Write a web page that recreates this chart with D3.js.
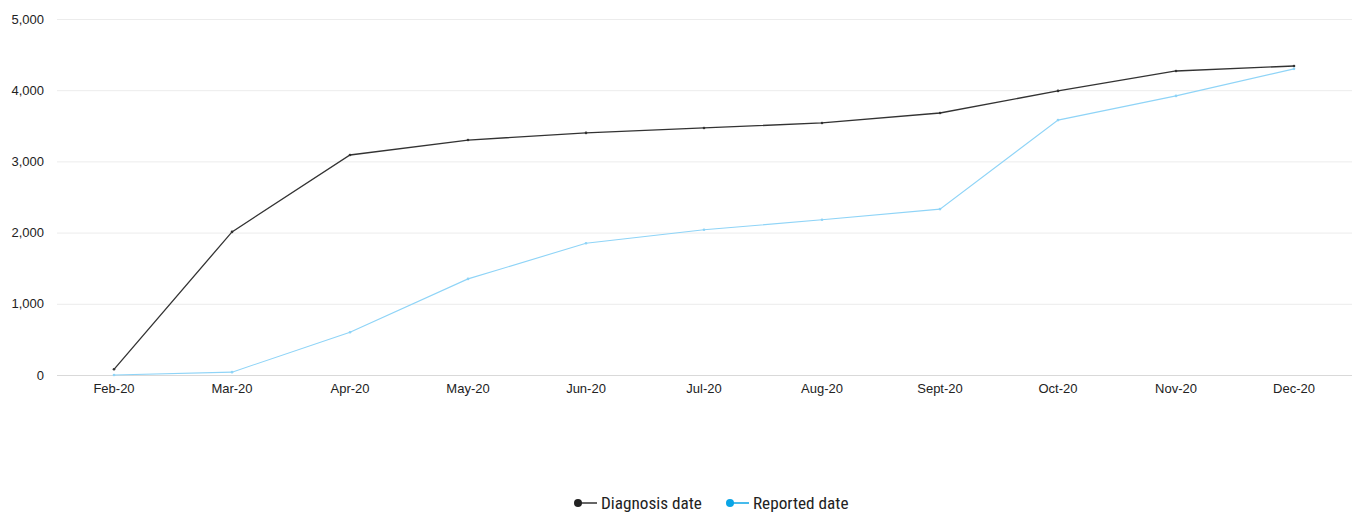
<!DOCTYPE html>
<html>
<head>
  <style>
    body { margin: 0; background: #fff; font-family: "Liberation Sans", Arial, sans-serif; }
    .axis text { font-size: 13px; fill: #222; }
    .legend text { font-family: "Liberation Sans Narrow", "Roboto Condensed", "Liberation Sans", sans-serif; font-size: 17.2px; fill: #222; }
  </style>
</head>
<body>
  <svg id="chart" width="1354" height="513"></svg>
  <script src="https://d3js.org/d3.v7.min.js"></script>
  <script>
    // Data
    const months = ["Feb-20", "Mar-20", "Apr-20", "May-20", "Jun-20", "Jul-20", "Aug-20", "Sept-20", "Oct-20", "Nov-20", "Dec-20"];
    const diagnosis = [80, 2010, 3090, 3300, 3400, 3470, 3540, 3680, 3990, 4270, 4340];
    const reported = [0, 40, 600, 1350, 1850, 2040, 2180, 2330, 3580, 3920, 4300];
    const yTicks = [0, 1000, 2000, 3000, 4000, 5000];

    const series = [
      { name: "Diagnosis date", values: diagnosis, color: "#333333", dot: "#222222", width: 1.3 },
      { name: "Reported date", values: reported, color: "#8fd4f7", dot: "#0aa5e6", width: 1.1 }
    ];

    const svg = d3.select("#chart");

    const x = d3.scaleBand()
      .domain(months)
      .range([55, 1353]);

    const y = d3.scaleLinear()
      .domain([0, 5000])
      .range([375, 19]);

    // Gridlines
    svg.append("g")
      .selectAll("line")
      .data(yTicks)
      .enter().append("line")
      .attr("x1", 57)
      .attr("x2", 1352)
      .attr("y1", d => y(d) + 0.5)
      .attr("y2", d => y(d) + 0.5)
      .attr("stroke", d => d === 0 ? "#d9d9d9" : "#ececec")
      .attr("stroke-width", 1);

    // Y axis labels
    const yAxis = svg.append("g")
      .attr("class", "axis")
      .attr("transform", "translate(44,0)")
      .call(d3.axisLeft(y).tickValues(yTicks).tickFormat(d3.format(",")).tickSize(0).tickPadding(0));
    yAxis.select(".domain").remove();

    // X axis labels
    const xAxis = svg.append("g")
      .attr("class", "axis")
      .attr("transform", "translate(0,375)")
      .call(d3.axisBottom(x).tickSize(0).tickPadding(9));
    xAxis.select(".domain").remove();

    const cx = d => x(d) + x.bandwidth() / 2;

    // Lines and point markers
    for (const s of series) {
      const line = d3.line()
        .x((d, i) => cx(months[i]))
        .y(d => y(d));

      svg.append("path")
        .datum(s.values)
        .attr("fill", "none")
        .attr("stroke", s.color)
        .attr("stroke-width", s.width)
        .attr("d", line);

      svg.append("g")
        .selectAll("circle")
        .data(s.values)
        .enter().append("circle")
        .attr("cx", (d, i) => cx(months[i]))
        .attr("cy", d => y(d))
        .attr("r", 1.3)
        .attr("fill", s.color);
    }

    // Legend
    const legend = svg.append("g").attr("class", "legend");
    const legendX = [578, 730];
    series.forEach((s, i) => {
      const g = legend.append("g").attr("transform", `translate(${legendX[i]},503)`);
      g.append("line")
        .attr("x1", 0).attr("x2", 19)
        .attr("y1", 0).attr("y2", 0)
        .attr("stroke", s.dot === "#222222" ? "#333" : s.dot)
        .attr("stroke-width", 1.5);
      g.append("circle")
        .attr("cx", 0).attr("cy", 0).attr("r", 4)
        .attr("fill", s.dot);
      g.append("text")
        .attr("x", 23)
        .attr("y", 0)
        .attr("dy", "0.35em")
        .text(s.name);
    });
  </script>
</body>
</html>
